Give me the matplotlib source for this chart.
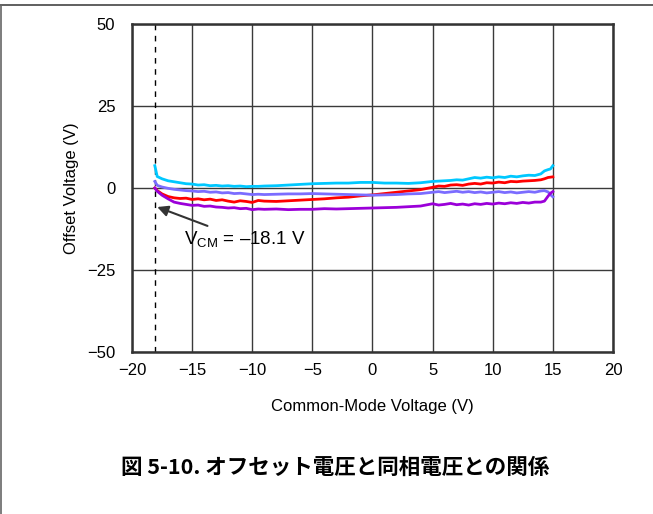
import matplotlib
matplotlib.use("Agg")
import matplotlib.pyplot as plt
from matplotlib.lines import Line2D

plt.rcParams["font.family"] = ["Liberation Sans", "DejaVu Sans"]
plt.rcParams["mathtext.fontset"] = "custom"
plt.rcParams["mathtext.rm"] = "Liberation Sans"

# common-mode sweep (V)
vcm = [-18.1, -17.9, -17.5, -17, -16.5, -16, -15.5, -15, -14.5, -14, -13.5, -13,
       -12.5, -12, -11.5, -11, -10.5, -10, -9.5, -9, -8, -7, -6, -5, -4, -3, -2,
       -1, 0, 1, 2, 3, 4, 5, 5.5, 6, 6.5, 7, 7.5, 8, 8.5, 9, 9.5, 10, 10.5, 11,
       11.5, 12, 12.5, 13, 13.5, 14, 14.3, 14.6, 14.8, 15]

# offset voltage, four units
vos_cyan = [6.8, 3.5, 2.8, 2.2, 1.9, 1.6, 1.3, 1.2, 0.9, 1.0, 0.7, 0.8,
            0.6, 0.7, 0.5, 0.6, 0.4, 0.5, 0.5, 0.6, 0.7, 0.9, 1.1, 1.3, 1.4, 1.5, 1.5,
            1.7, 1.7, 1.5, 1.5, 1.4, 1.6, 2.0, 2.1, 2.2, 2.3, 2.5, 2.4, 2.8, 3.2, 3.0, 3.3, 3.1, 3.4, 3.2,
            3.6, 3.4, 3.7, 3.9, 3.8, 4.3, 5.2, 5.6, 5.8, 6.8]
vos_red = [0.0, -0.8, -1.8, -2.6, -3.0, -3.2, -3.1, -3.5, -3.3, -3.6, -3.4, -3.8,
           -3.6, -4.0, -4.3, -3.9, -4.1, -4.4, -3.8, -4.0, -4.1, -3.9, -3.7, -3.5, -3.3, -3.0, -2.8,
           -2.4, -2.1, -1.7, -1.3, -0.9, -0.5, 0.2, 0.6, 0.5, 0.9, 1.0, 0.8, 1.2, 1.4, 1.2, 1.6, 1.5, 1.8, 1.6,
           2.0, 1.9, 2.1, 2.2, 2.3, 2.5, 2.8, 3.2, 3.3, 3.4]
vos_blue = [2.0, 0.8, 0.3, -0.1, -0.4, -0.6, -0.8, -0.9, -1.1, -1.0, -1.3, -1.2,
            -1.5, -1.4, -1.7, -1.6, -1.8, -2.0, -1.9, -2.0, -1.9, -1.8, -1.8, -1.7, -1.8, -1.9, -2.0,
            -2.1, -2.2, -2.1, -2.0, -1.8, -1.7, -1.3, -1.1, -1.4, -1.2, -1.0, -1.3, -1.1, -1.4, -1.2, -1.5, -1.3, -1.1, -1.4,
            -1.2, -1.5, -1.3, -1.1, -1.3, -0.9, -0.8, -1.2, -2.0, -2.7]
vos_purple = [0.0, -1.0, -2.2, -3.3, -4.3, -4.7, -5.0, -5.3, -5.2, -5.6, -5.5, -5.8,
              -5.9, -6.1, -6.0, -6.3, -6.2, -6.6, -6.4, -6.5, -6.4, -6.6, -6.5, -6.5, -6.3, -6.4, -6.3,
              -6.2, -6.1, -6.0, -5.9, -5.7, -5.5, -4.8, -5.2, -5.0, -4.7, -5.1, -4.9, -5.2, -4.8, -5.0, -4.7, -4.9, -4.6, -4.8,
              -4.5, -4.7, -4.4, -4.6, -4.3, -4.3, -4.0, -2.5, -1.6, -1.1]

vcm_limit = -18.1
x_ticks = [-20, -15, -10, -5, 0, 5, 10, 15, 20]
y_ticks = [-50, -25, 0, 25, 50]

fig = plt.figure(figsize=(6.53, 5.14), dpi=100)
ax = fig.add_axes([0.2021, 0.3152, 0.7366, 0.6381])

ax.plot(vcm, vos_cyan, color="#00c8ff", lw=2, zorder=3)
ax.plot(vcm, vos_red, color="#ff0000", lw=2, zorder=3)
ax.plot(vcm, vos_blue, color="#7b6cff", lw=2, zorder=3)
ax.plot(vcm, vos_purple, color="#9b00d9", lw=2, zorder=3)

ax.axvline(vcm_limit, color="black", lw=1, ls=(0, (4, 4)), zorder=2)

ax.annotate(r"V$_\mathregular{CM}$ = –18.1 V", xy=(-17.9, -5.8), xytext=(-15.7, -15.8),
            fontsize=13.5, va="center", ha="left",
            arrowprops=dict(arrowstyle="-|>", color="#333333", lw=1.5,
                            mutation_scale=16, shrinkA=2, shrinkB=0))

ax.set_xlim(-20, 20)
ax.set_ylim(-50, 50)
ax.set_xticks(x_ticks)
ax.set_yticks(y_ticks)
ax.tick_params(length=0, labelsize=12, colors="black")
ax.tick_params(axis="y", pad=12)
ax.tick_params(axis="x", pad=8)
ax.grid(True, color="#3a3a3a", lw=1.0)
ax.set_axisbelow(True)
for s in ax.spines.values():
    s.set_linewidth(1.8)
    s.set_color("#333333")

ax.set_xlabel("Common-Mode Voltage (V)", fontsize=12, labelpad=15)
ax.set_ylabel("Offset Voltage (V)", fontsize=12, labelpad=6)

fig.text(335 / 653, 1 - 467 / 514, "図 5-10. オフセット電圧と同相電圧との関係",
         ha="center", va="center", fontsize=15.5, fontweight="bold",
         family=["Noto Sans CJK JP", "DejaVu Sans"])

# page frame lines
fig.add_artist(Line2D([0, 1], [1 - 5 / 514] * 2, color="#444444", lw=1.2))
fig.add_artist(Line2D([0.001, 0.001], [0, 1 - 5 / 514], color="#666666", lw=1.2))

fig.savefig("out.png", dpi=100)
